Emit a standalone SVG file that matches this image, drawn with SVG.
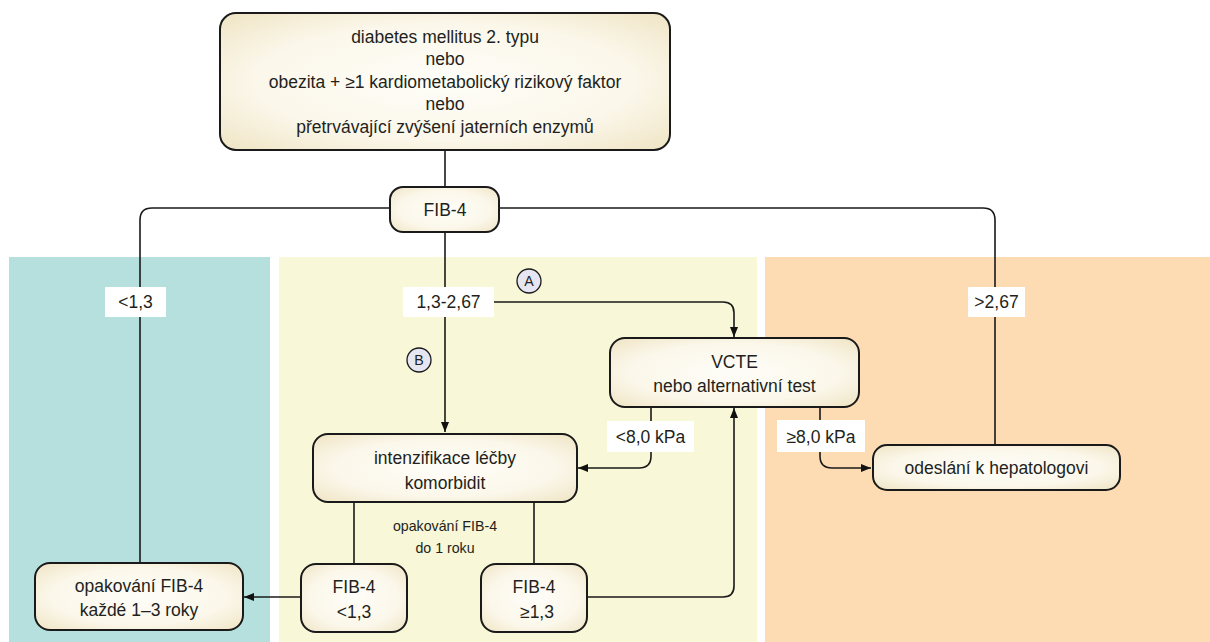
<svg xmlns="http://www.w3.org/2000/svg" width="1210" height="642" viewBox="0 0 1210 642">
<defs>
<radialGradient id="g" cx="50%" cy="50%" r="70%">
<stop offset="0" stop-color="#fefdf8"/>
<stop offset="0.6" stop-color="#fbf7ea"/>
<stop offset="1" stop-color="#efe4c4"/>
</radialGradient>
<marker id="ah" viewBox="0 0 10 10" refX="10" refY="5" markerWidth="10" markerHeight="10" markerUnits="userSpaceOnUse" orient="auto">
<path d="M0,1 L10,5 L0,9 z" fill="#111"/>
</marker>
<style>
.n{fill:url(#g);stroke:#1a1a1a;stroke-width:2}
.t{font-family:"Liberation Sans",Arial,sans-serif;font-size:17.5px;fill:#231f20;text-anchor:middle}
.s{font-family:"Liberation Sans",Arial,sans-serif;font-size:14.2px;fill:#231f20;text-anchor:middle}
.c{fill:none;stroke:#1a1a1a;stroke-width:1.6}
.lb{fill:#fff}
.circ{fill:#e6e5f2;stroke:#1a1a1a;stroke-width:1.3}
</style>
</defs>
<g id="panels">
<rect x="9" y="257" width="261" height="385" fill="#b6e0dd"/>
<rect x="279" y="257" width="478" height="385" fill="#f8f7d7"/>
<rect x="765" y="257" width="445" height="385" fill="#fddcb3"/>
</g>
<g id="connectors">
<path class="c" d="M445,150 V188"/>
<path class="c" d="M390,208 H152 Q140,208 140,220 V565"/>
<path class="c" d="M499,208 H983 Q995,208 995,220 V445"/>
<path class="c" d="M445,232 V432" marker-end="url(#ah)"/>
<path class="c" d="M494,302 H723 Q734,302 734,313 V337" marker-end="url(#ah)"/>
<path class="c" d="M651,407 V456 Q651,468 639,468 H578" marker-end="url(#ah)"/>
<path class="c" d="M820,407 V456 Q820,468 832,468 H871" marker-end="url(#ah)"/>
<path class="c" d="M354,502 V565"/>
<path class="c" d="M534,502 V565"/>
<path class="c" d="M587,597 H723 Q734,597 734,586 V408" marker-end="url(#ah)"/>
<path class="c" d="M301,597 H244" marker-end="url(#ah)"/>
</g>
<g id="labels">
<rect class="lb" x="105" y="287" width="61" height="30"/>
<text class="t" x="135.5" y="308">&lt;1,3</text>
<rect class="lb" x="403" y="287" width="91" height="30"/>
<text class="t" x="448.5" y="308">1,3-2,67</text>
<rect class="lb" x="968" y="287" width="57" height="30"/>
<text class="t" x="996.5" y="308">&gt;2,67</text>
<rect class="lb" x="607" y="421" width="87" height="31"/>
<text class="t" x="650.5" y="443">&lt;8,0 kPa</text>
<rect class="lb" x="777" y="420" width="88" height="32"/>
<text class="t" x="821" y="443">≥8,0 kPa</text>
<text class="s" x="445" y="531">opakování FIB-4</text>
<text class="s" x="445" y="553">do 1 roku</text>
</g>
<g id="markA">
<circle class="circ" cx="529" cy="281" r="12"/>
<text class="s" x="529" y="286" font-size="14">A</text>
</g>
<g id="markB">
<circle class="circ" cx="419" cy="360" r="12"/>
<text class="s" x="419" y="365" font-size="14">B</text>
</g>
<g id="start">
<rect class="n" x="220" y="13" width="450" height="137" rx="16"/>
<text class="t" x="445" y="43">diabetes mellitus 2. typu</text>
<text class="t" x="445" y="65">nebo</text>
<text class="t" x="445" y="88">obezita + ≥1 kardiometabolický rizikový faktor</text>
<text class="t" x="445" y="110">nebo</text>
<text class="t" x="445" y="133">přetrvávající zvýšení jaterních enzymů</text>
</g>
<g id="fib4">
<rect class="n" x="390" y="187" width="109" height="45" rx="13"/>
<text class="t" x="445" y="216">FIB-4</text>
</g>
<g id="vcte">
<rect class="n" x="610" y="338" width="249" height="69" rx="15"/>
<text class="t" x="734.5" y="368">VCTE</text>
<text class="t" x="734.5" y="392">nebo alternativní test</text>
</g>
<g id="intenz">
<rect class="n" x="313" y="434" width="264" height="68" rx="15"/>
<text class="t" x="445" y="464">intenzifikace léčby</text>
<text class="t" x="445" y="489">komorbidit</text>
</g>
<g id="hepato">
<rect class="n" x="873" y="445" width="247" height="45" rx="14"/>
<text class="t" x="996.5" y="474">odeslání k hepatologovi</text>
</g>
<g id="fibLow">
<rect class="n" x="301" y="564" width="106" height="68" rx="15"/>
<text class="t" x="354" y="593">FIB-4</text>
<text class="t" x="354" y="618">&lt;1,3</text>
</g>
<g id="fibHigh">
<rect class="n" x="481" y="564" width="106" height="68" rx="15"/>
<text class="t" x="534" y="593">FIB-4</text>
<text class="t" x="537" y="618">≥1,3</text>
</g>
<g id="repeat">
<rect class="n" x="35" y="563" width="208" height="67" rx="15"/>
<text class="t" x="139" y="592">opakování FIB-4</text>
<text class="t" x="139" y="616">každé 1–3 roky</text>
</g>
</svg>
